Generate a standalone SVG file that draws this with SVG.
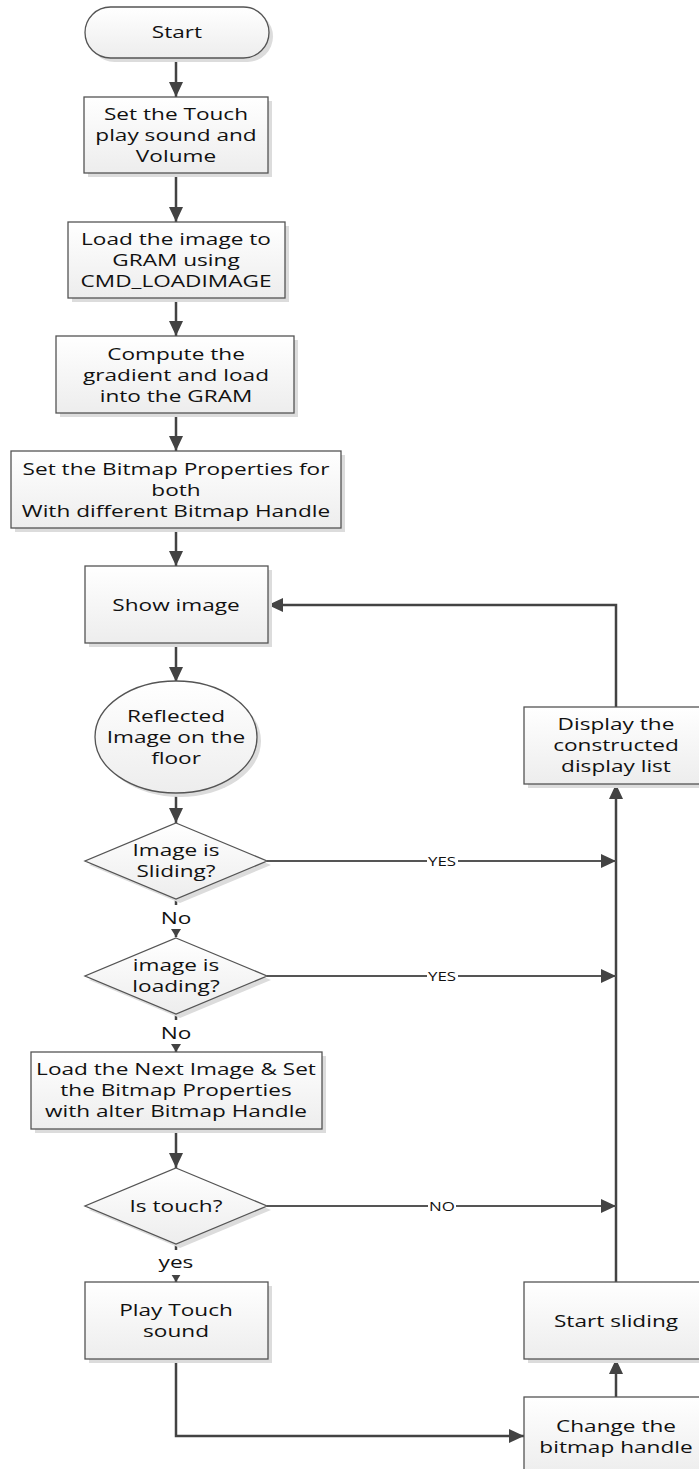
<svg xmlns="http://www.w3.org/2000/svg" width="699" height="1469" viewBox="0 0 699 1469">
<defs>
<linearGradient id="g" x1="0" y1="0" x2="0" y2="1"><stop offset="0" stop-color="#ffffff"/><stop offset="1" stop-color="#ededed"/></linearGradient>
<marker id="a" markerUnits="userSpaceOnUse" markerWidth="16" markerHeight="14" refX="15" refY="7" orient="auto"><path d="M0,0 L15,7 L0,14 Z" fill="#434343"/></marker>
<marker id="s" markerUnits="userSpaceOnUse" markerWidth="9" markerHeight="10" refX="8" refY="5" orient="auto"><path d="M0,0 L8,5 L0,10 Z" fill="#434343"/></marker>
<style>
.n{fill:url(#g);stroke:#545454;stroke-width:1.3}
.sh{fill:#dcdcdc}
.t{font-family:"Open Sans","Liberation Sans",sans-serif;font-size:17px;fill:#111;text-anchor:middle}
.l{font-family:"Open Sans","Liberation Sans",sans-serif;font-size:12.5px;fill:#111;text-anchor:middle}
.c{fill:none;stroke:#434343;stroke-width:2.5}
.c2{fill:none;stroke:#555;stroke-width:2}
</style>
</defs>
<g id="connectors">
<line class="c" x1="176" y1="58" x2="176" y2="97" marker-end="url(#a)"/>
<line class="c" x1="176" y1="173" x2="176" y2="222" marker-end="url(#a)"/>
<line class="c" x1="176" y1="298" x2="176" y2="336" marker-end="url(#a)"/>
<line class="c" x1="176" y1="413" x2="176" y2="451" marker-end="url(#a)"/>
<line class="c" x1="176" y1="528" x2="176" y2="566" marker-end="url(#a)"/>
<line class="c" x1="176" y1="643" x2="176" y2="682" marker-end="url(#a)"/>
<line class="c" x1="176" y1="793" x2="176" y2="823" marker-end="url(#a)"/>
<line class="c" x1="176" y1="899" x2="176" y2="937" marker-end="url(#s)"/>
<line class="c" x1="176" y1="1014" x2="176" y2="1052" marker-end="url(#s)"/>
<line class="c" x1="176" y1="1129" x2="176" y2="1168" marker-end="url(#a)"/>
<line class="c" x1="176" y1="1244" x2="176" y2="1282" marker-end="url(#s)"/>
<polyline class="c" points="176,1359 176,1436 524,1436" marker-end="url(#a)"/>
<line class="c" x1="616" y1="1397" x2="616" y2="1359" marker-end="url(#a)"/>
<line class="c" x1="616" y1="1282" x2="616" y2="784" marker-end="url(#a)"/>
<polyline class="c" points="616,707 616,605 268,605" marker-end="url(#a)"/>
<line class="c2" x1="267" y1="861" x2="616" y2="861" marker-end="url(#a)"/>
<line class="c2" x1="267" y1="976" x2="616" y2="976" marker-end="url(#a)"/>
<line class="c2" x1="267" y1="1206" x2="616" y2="1206" marker-end="url(#a)"/>
<rect x="160" y="905" width="32" height="24" fill="#fff"/>
<text class="t" transform="translate(176 0) scale(1.33 1)" x="0" y="924">No</text>
<rect x="160" y="1020" width="32" height="24" fill="#fff"/>
<text class="t" transform="translate(176 0) scale(1.33 1)" x="0" y="1039">No</text>
<rect x="158" y="1250" width="36" height="25" fill="#fff"/>
<text class="t" transform="translate(176 0) scale(1.33 1)" x="0" y="1268">yes</text>
<rect x="427" y="853" width="31" height="16" fill="#fff"/>
<text class="l" transform="translate(442 0) scale(1.35 1)" x="0" y="866">YES</text>
<rect x="427" y="968" width="31" height="16" fill="#fff"/>
<text class="l" transform="translate(442 0) scale(1.35 1)" x="0" y="981">YES</text>
<rect x="428" y="1198" width="28" height="16" fill="#fff"/>
<text class="l" transform="translate(442 0) scale(1.35 1)" x="0" y="1211">NO</text>
</g>
<g id="start">
<rect class="sh" x="89" y="11" width="184" height="51" rx="25.5"/>
<rect class="n" x="85" y="7" width="184" height="51" rx="25.5"/>
<text class="t" transform="translate(177 0) scale(1.33 1)" x="0" y="38">Start</text>
</g>
<g id="touch-sound-setup">
<rect class="sh" x="88" y="101" width="184" height="76"/>
<rect class="n" x="84" y="97" width="184" height="76"/>
<text class="t" transform="translate(176 0) scale(1.33 1)"><tspan x="0" y="120">Set the Touch</tspan><tspan x="0" y="141">play sound and</tspan><tspan x="0" y="162">Volume</tspan></text>
</g>
<g id="load-image">
<rect class="sh" x="72" y="226" width="217" height="76"/>
<rect class="n" x="68" y="222" width="217" height="76"/>
<text class="t" transform="translate(176 0) scale(1.33 1)"><tspan x="0" y="245">Load the image to</tspan><tspan x="0" y="266">GRAM using</tspan><tspan x="0" y="287">CMD_LOADIMAGE</tspan></text>
</g>
<g id="gradient">
<rect class="sh" x="60" y="340" width="238" height="77"/>
<rect class="n" x="56" y="336" width="238" height="77"/>
<text class="t" transform="translate(176 0) scale(1.33 1)"><tspan x="0" y="360">Compute the</tspan><tspan x="0" y="381">gradient and load</tspan><tspan x="0" y="402">into the GRAM</tspan></text>
</g>
<g id="bitmap-props">
<rect class="sh" x="15" y="455" width="330" height="77"/>
<rect class="n" x="11" y="451" width="330" height="77"/>
<text class="t" transform="translate(176 0) scale(1.33 1)"><tspan x="0" y="475">Set the Bitmap Properties for</tspan><tspan x="0" y="496">both</tspan><tspan x="0" y="517">With different Bitmap Handle</tspan></text>
</g>
<g id="show-image">
<rect class="sh" x="89" y="570" width="183" height="77"/>
<rect class="n" x="85" y="566" width="183" height="77"/>
<text class="t" transform="translate(176 0) scale(1.33 1)" x="0" y="611">Show image</text>
</g>
<g id="reflected">
<ellipse class="sh" cx="180" cy="741" rx="81" ry="56"/>
<ellipse class="n" cx="176" cy="737" rx="81" ry="56"/>
<text class="t" transform="translate(176 0) scale(1.33 1)"><tspan x="0" y="722">Reflected</tspan><tspan x="0" y="743">Image on the</tspan><tspan x="0" y="764">floor</tspan></text>
</g>
<g id="sliding-decision">
<polygon class="sh" points="180,827 271,865 180,903 89,865"/>
<polygon class="n" points="176,823 267,861 176,899 85,861"/>
<text class="t" transform="translate(176 0) scale(1.33 1)"><tspan x="0" y="856">Image is</tspan><tspan x="0" y="877">Sliding?</tspan></text>
</g>
<g id="loading-decision">
<polygon class="sh" points="180,942 271,980 180,1018 89,980"/>
<polygon class="n" points="176,938 267,976 176,1014 85,976"/>
<text class="t" transform="translate(176 0) scale(1.33 1)"><tspan x="0" y="971">image is</tspan><tspan x="0" y="992">loading?</tspan></text>
</g>
<g id="load-next">
<rect class="sh" x="35" y="1056" width="291" height="77"/>
<rect class="n" x="31" y="1052" width="291" height="77"/>
<text class="t" transform="translate(176 0) scale(1.33 1)"><tspan x="0" y="1075">Load the Next Image &amp; Set</tspan><tspan x="0" y="1096">the Bitmap Properties</tspan><tspan x="0" y="1117">with alter Bitmap Handle</tspan></text>
</g>
<g id="touch-decision">
<polygon class="sh" points="180,1172 271,1210 180,1248 89,1210"/>
<polygon class="n" points="176,1168 267,1206 176,1244 85,1206"/>
<text class="t" transform="translate(176 0) scale(1.33 1)" x="0" y="1212">Is touch?</text>
</g>
<g id="play-sound">
<rect class="sh" x="89" y="1286" width="183" height="77"/>
<rect class="n" x="85" y="1282" width="183" height="77"/>
<text class="t" transform="translate(176 0) scale(1.33 1)"><tspan x="0" y="1316">Play Touch</tspan><tspan x="0" y="1337">sound</tspan></text>
</g>
<g id="display-list">
<rect class="sh" x="528" y="711" width="184" height="77"/>
<rect class="n" x="524" y="707" width="184" height="77"/>
<text class="t" transform="translate(616 0) scale(1.33 1)"><tspan x="0" y="730">Display the</tspan><tspan x="0" y="751">constructed</tspan><tspan x="0" y="772">display list</tspan></text>
</g>
<g id="start-sliding">
<rect class="sh" x="528" y="1286" width="184" height="77"/>
<rect class="n" x="524" y="1282" width="184" height="77"/>
<text class="t" transform="translate(616 0) scale(1.33 1)" x="0" y="1327">Start sliding</text>
</g>
<g id="change-handle">
<rect class="sh" x="528" y="1401" width="184" height="77"/>
<rect class="n" x="524" y="1397" width="184" height="77"/>
<text class="t" transform="translate(616 0) scale(1.33 1)"><tspan x="0" y="1432">Change the</tspan><tspan x="0" y="1453">bitmap handle</tspan></text>
</g>
</svg>
